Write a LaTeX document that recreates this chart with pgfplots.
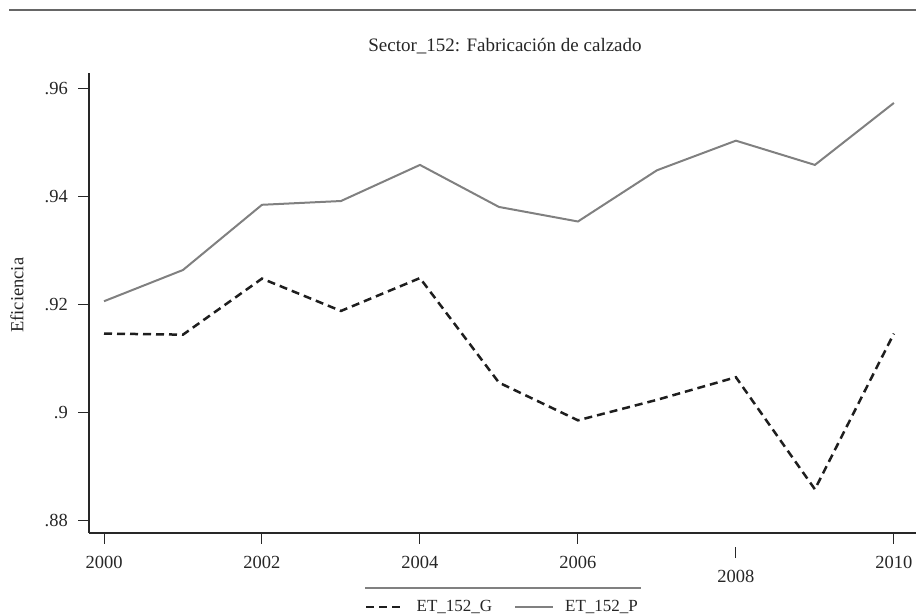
\documentclass[border=0pt]{standalone}
\usepackage{fontspec}
\setmainfont{Liberation Serif}
\usepackage{pgfplots}
\pgfplotsset{compat=1.18}
\definecolor{pgray}{RGB}{128,128,128}
\definecolor{gdark}{RGB}{30,30,30}
\definecolor{axisc}{RGB}{40,40,40}
\begin{document}
\begin{tikzpicture}[x=1pt,y=1pt]
\path[use as bounding box] (0,0) rectangle (916,615);
\draw[line width=2pt, color=black!60] (9,605) -- (916,605);
\node[font=\fontsize{19}{22}\selectfont, text=black!85] at (505,569) {Sector\_152: Fabricación de calzado};
\draw[line width=1.2pt, color=black!50] (365,27) -- (641,27);
\begin{axis}[
  at={(89pt,82pt)}, anchor=south west,
  scale only axis, width=827pt, height=460pt,
  xmin=1999.81, xmax=2010.28, ymin=0.87759, ymax=0.96296,
  axis x line*=bottom, axis y line*=left,
  axis line style={line width=1.3pt, color=axisc, -},
  tick align=outside, major tick length=11pt,
  tick style={line width=1pt, color=axisc},
  xtick={2000,2002,2004,2006,2010},
  xticklabels={2000,2002,2004,2006,2010},
  extra x ticks={2008},
  extra x tick labels={\parbox[t]{40pt}{\centering\color{axisc}\rule{1pt}{11pt}\\[3pt]\color{black!85}2008}},
  extra x tick style={major tick length=0pt, xticklabel style={yshift=-2.5pt}},
  ytick={0.88,0.9,0.92,0.94,0.96},
  yticklabels={.88,.9,.92,.94,.96},
  ticklabel style={font=\fontsize{18.5}{21}\selectfont, text=black!85, inner sep=0pt},
  xticklabel style={yshift=-11.5pt},
  yticklabel style={xshift=-10pt},
  ylabel={Eficiencia},
  ylabel style={at={(axis description cs:-0.087,0.517)}, anchor=center, font=\fontsize{18.5}{21}\selectfont, text=black!85},
  legend style={at={(axis description cs:0.5,-0.1609)}, anchor=center, draw=none, fill=none,
    font=\fontsize{17}{20}\selectfont, text=black!85, inner sep=0pt,
    /tikz/every even column/.append style={column sep=20pt}},
  legend columns=2,
  legend image code/.code={\draw[#1] (0pt,0pt) -- (38pt,0pt); \path (47pt,0pt);},
  legend cell align=left,
]
\addplot[gdark, line width=2.5pt, dash pattern=on 8pt off 5pt] coordinates {
(2000,0.9146)(2001,0.9144)(2002,0.9248)(2003,0.9188)(2004,0.9249)(2005,0.9055)
(2006,0.8985)(2007,0.9023)(2008,0.9065)(2009,0.8857)(2010,0.9146)};
\addlegendentry{ET\_152\_G}
\addplot[pgray, line width=2pt] coordinates {
(2000,0.9206)(2001,0.9264)(2002,0.9385)(2003,0.9392)(2004,0.9459)(2005,0.9381)
(2006,0.9354)(2007,0.9449)(2008,0.9504)(2009,0.9459)(2010,0.9574)};
\addlegendentry{ET\_152\_P}
\end{axis}
\end{tikzpicture}
\end{document}
